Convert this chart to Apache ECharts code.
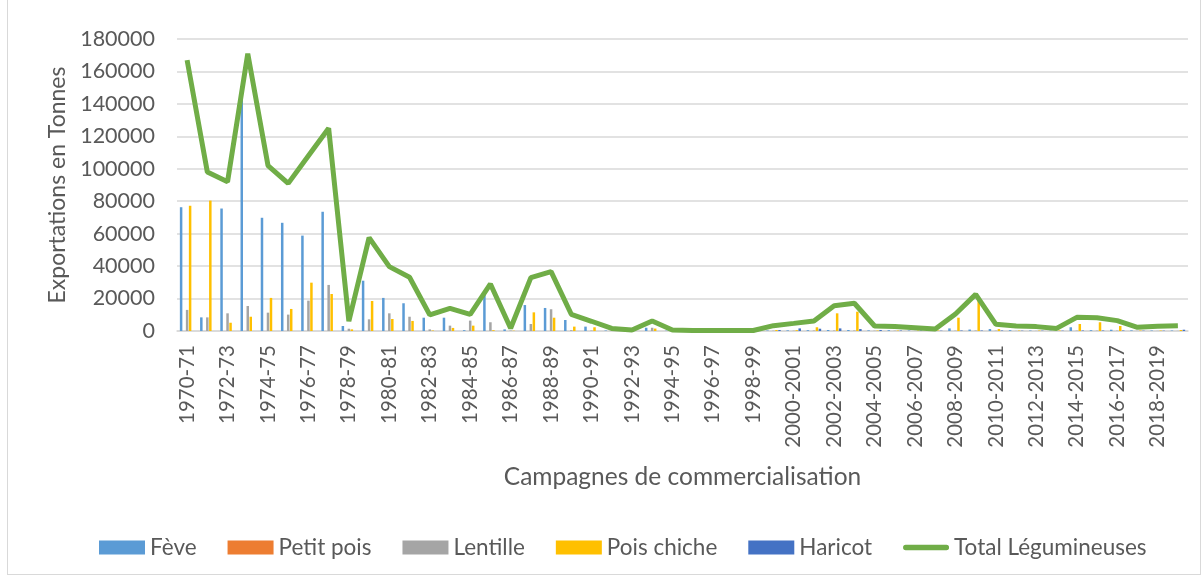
<!DOCTYPE html>
<html>
<head>
<meta charset="utf-8">
<script src="https://cdn.jsdelivr.net/npm/echarts@6/dist/echarts.min.js"></script>
<style>
  html, body { margin: 0; padding: 0; background: #fff; }
  #chart { width: 1204px; height: 578px; }
  #frame { position: absolute; left: 7px; top: -2px; width: 1194px; height: 577px; border: 1px solid #d9d9d9; box-sizing: border-box; pointer-events: none; }
</style>
</head>
<body>
<div id="chart"></div>
<div id="frame"></div>
<script>
// Campagnes de commercialisation
const campagnes = [
  '1970-71', '1971-72', '1972-73', '1973-74', '1974-75', '1975-76', '1976-77', '1977-78', '1978-79', '1979-80',
  '1980-81', '1981-82', '1982-83', '1983-84', '1984-85', '1985-86', '1986-87', '1987-88', '1988-89', '1989-90',
  '1990-91', '1991-92', '1992-93', '1993-94', '1994-95', '1995-96', '1996-97', '1997-98', '1998-99', '1999-2000',
  '2000-2001', '2001-2002', '2002-2003', '2003-2004', '2004-2005', '2005-2006', '2006-2007', '2007-2008', '2008-2009', '2009-2010',
  '2010-2011', '2011-2012', '2012-2013', '2013-2014', '2014-2015', '2015-2016', '2016-2017', '2017-2018', '2018-2019', '2019-2020'
];

// exportations en tonnes
const feve = [
  76300, 8400, 75500, 147000, 69800, 66700, 58800, 73500, 3100, 31000,
  20400, 17100, 8200, 8200, 500, 23000, 1000, 16000, 14200, 6800,
  2700, 300, 200, 2000, 200, 100, 100, 100, 100, 300,
  400, 500, 600, 600, 400, 500, 300, 300, 1600, 900,
  1200, 500, 300, 200, 2300, 500, 800, 400, 300, 300
];
const petitPois = [
  0, 0, 0, 0, 0, 0, 0, 0, 0, 0,
  0, 0, 0, 0, 0, 0, 0, 0, 0, 0,
  0, 0, 0, 0, 0, 0, 0, 0, 0, 0,
  0, 0, 0, 0, 0, 0, 0, 0, 0, 0,
  0, 0, 0, 0, 0, 0, 0, 0, 0, 0
];
const lentille = [
  13000, 8400, 10900, 15400, 11300, 10100, 18700, 28400, 1400, 7200,
  10900, 8800, 1000, 3300, 6400, 5400, 300, 4300, 13400, 500,
  300, 200, 0, 2000, 100, 100, 100, 100, 100, 200,
  200, 300, 300, 300, 200, 200, 100, 100, 200, 300,
  200, 100, 100, 100, 200, 200, 200, 100, 100, 100
];
const poisChiche = [
  77200, 80400, 5100, 8800, 20400, 13600, 29800, 22800, 1000, 18500,
  7400, 6200, 300, 1900, 3300, 500, 200, 11500, 8200, 2700,
  2300, 800, 200, 1500, 200, 100, 100, 100, 100, 600,
  500, 2300, 10900, 11900, 300, 300, 300, 300, 8200, 20000,
  1200, 300, 300, 300, 4300, 5400, 3100, 300, 300, 600
];
const haricot = [
  0, 0, 0, 0, 0, 0, 0, 0, 0, 0,
  0, 0, 0, 0, 0, 0, 0, 0, 0, 0,
  0, 0, 0, 0, 0, 0, 0, 0, 0, 600,
  1600, 1400, 1600, 1200, 600, 300, 300, 200, 300, 300,
  300, 200, 200, 200, 300, 300, 300, 200, 200, 800
];
const totalLegumineuses = [
  167000, 98000, 92000, 171000, 102000, 91000, 108000, 125000, 6000, 57600,
  39700, 33100, 9900, 14000, 10300, 29000, 1700, 32900, 36600, 10300,
  6000, 1600, 600, 6200, 600, 300, 300, 300, 300, 3300,
  4700, 6200, 15600, 17100, 3100, 2700, 2000, 1200, 10500, 22600,
  4100, 3100, 2700, 1600, 8400, 8200, 6400, 2300, 3000, 3300
];

const yTicks = { min: 0, max: 180000, interval: 20000 };

const font = 'Lato, "Open Sans", sans-serif';
const textColor = '#595959';

function barSeries(name, data, color) {
  return {
    name: name,
    type: 'bar',
    data: data,
    barWidth: 2.5,
    barGap: '20%',
    itemStyle: { color: color },
    z: 2
  };
}

const chart = echarts.init(document.getElementById('chart'));
chart.setOption({
  animation: false,
  textStyle: { fontFamily: font, color: textColor },
  grid: { left: 177, right: 16, top: 39, bottom: 247 },
  legend: {
    bottom: 14,
    left: 94,
    itemWidth: 46,
    itemHeight: 14,
    itemGap: 31,
    textStyle: { fontSize: 22.5, color: textColor, fontFamily: font },
    data: [
      { name: 'Fève', icon: 'rect' },
      { name: 'Petit pois', icon: 'rect' },
      { name: 'Lentille', icon: 'rect' },
      { name: 'Pois chiche', icon: 'rect' },
      { name: 'Haricot', icon: 'rect' },
      { name: 'Total Légumineuses', icon: 'path://M3,0 L49,0 A3,3 0 0 1 49,6 L3,6 A3,3 0 0 1 3,0 Z' }
    ]
  },
  xAxis: {
    type: 'category',
    data: campagnes,
    name: 'Campagnes de commercialisation',
    nameLocation: 'middle',
    nameGap: 134,
    nameTextStyle: { fontSize: 24.5, color: textColor, fontFamily: font },
    axisLine: { lineStyle: { color: '#d9d9d9', width: 1.5 } },
    axisTick: { show: false },
    axisLabel: { rotate: 90, interval: 1, fontSize: 20.5, color: textColor, margin: 14 }
  },
  yAxis: {
    type: 'value',
    min: yTicks.min,
    max: yTicks.max,
    interval: yTicks.interval,
    name: 'Exportations en Tonnes',
    nameLocation: 'middle',
    nameGap: 104,
    nameTextStyle: { fontSize: 23, color: textColor, fontFamily: font },
    axisLine: { show: false },
    axisTick: { show: false },
    axisLabel: { fontSize: 21.5, color: textColor, margin: 22, formatter: function (v) { return String(v); } },
    splitLine: { lineStyle: { color: '#d9d9d9', width: 1.5 } }
  },
  series: [
    barSeries('Fève', feve, '#5b9bd5'),
    barSeries('Petit pois', petitPois, '#ed7d31'),
    barSeries('Lentille', lentille, '#a5a5a5'),
    barSeries('Pois chiche', poisChiche, '#ffc000'),
    barSeries('Haricot', haricot, '#4472c4'),
    {
      name: 'Total Légumineuses',
      type: 'line',
      data: totalLegumineuses,
      symbol: 'none',
      lineStyle: { color: '#70ad47', width: 5 },
      itemStyle: { color: '#70ad47' },
      z: 5
    }
  ]
});

window.addEventListener('resize', function () {
  chart.resize();
});
</script>
</body>
</html>
